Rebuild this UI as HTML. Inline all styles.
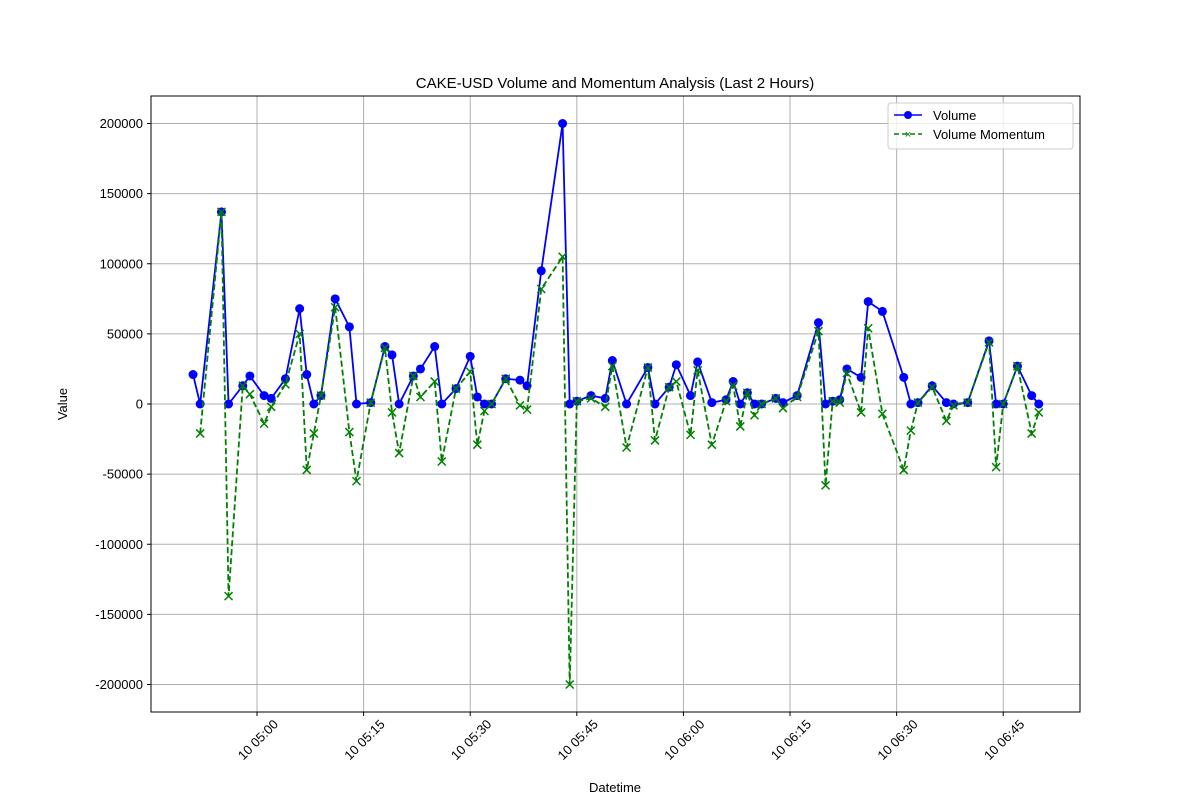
<!DOCTYPE html>
<html><head><meta charset="utf-8"><style>
body{margin:0;background:#fff;}
svg{font-family:"Liberation Sans","DejaVu Sans",sans-serif;}
</style></head><body>
<svg id="chart" width="1200" height="800" xmlns="http://www.w3.org/2000/svg">
<rect width="1200" height="800" fill="#fff"/>
<text x="615" y="88" text-anchor="middle" font-size="15">CAKE-USD Volume and Momentum Analysis (Last 2 Hours)</text>
<g id="grid"></g>
<g id="series"></g>
<rect x="151" y="96" width="929" height="616" fill="none" stroke="#000" stroke-width="1"/>
<g id="axes"></g>
<text x="615" y="792" text-anchor="middle" font-size="13">Datetime</text>
<text x="67" y="404" text-anchor="middle" font-size="13" transform="rotate(-90 67 404)">Value</text>
<g>
<rect x="888" y="103" width="185" height="46" rx="3" fill="#fff" fill-opacity="0.8" stroke="#ccc"/>
<g>
<line x1="894" y1="115" x2="922" y2="115" stroke="blue" stroke-width="1.5"/>
<circle cx="908" cy="115" r="4" fill="blue"/>
<text x="933" y="120" font-size="13">Volume</text>
</g>
<g>
<line x1="894" y1="134" x2="922" y2="134" stroke="green" stroke-width="1.5" stroke-dasharray="5,3"/>
<text x="908" y="138" font-size="11" fill="green" text-anchor="middle">×</text>
<text x="933" y="139" font-size="13">Volume Momentum</text>
</g>
</g>
</svg>
<script>
// minutes offset from 05:00
const minutes = [-9,-8,-5,-4,-2,-1,1,2,4,6,7,8,9,11,13,14,16,18,19,20,22,23,25,26,28,30,31,32,33,35,37,38,40,43,44,45,47,49,50,52,55,56,58,59,61,62,64,66,67,68,69,70,71,73,74,76,79,80,81,82,83,85,86,88,91,92,93,95,97,98,100,103,104,105,107,109,110];
const volume = [21000,0,137000,0,13000,20000,6000,4000,18000,68000,21000,0,6000,75000,55000,0,1000,41000,35000,0,20000,25000,41000,0,11000,34000,5000,0,0,18000,17000,13000,95000,200000,0,2000,6000,4000,31000,0,26000,0,12000,28000,6000,30000,1000,3000,16000,0,8000,0,0,4000,1000,6000,58000,0,2000,3000,25000,19000,73000,66000,19000,0,1000,13000,1000,0,1000,45000,0,0,27000,6000,0];
const momentum = [null,-21000,137000,-137000,13000,7000,-14000,-2000,14000,50000,-47000,-21000,6000,69000,-20000,-55000,1000,40000,-6000,-35000,20000,5000,16000,-41000,11000,23000,-29000,-5000,0,18000,-1000,-4000,82000,105000,-200000,2000,4000,-2000,27000,-31000,26000,-26000,12000,16000,-22000,24000,-29000,2000,13000,-16000,8000,-8000,0,4000,-3000,5000,52000,-58000,2000,1000,22000,-6000,54000,-7000,-47000,-19000,1000,12000,-12000,-1000,1000,44000,-45000,0,27000,-21000,-6000];
const yTicks = [-200000,-150000,-100000,-50000,0,50000,100000,150000,200000];
const xTicks = [0,15,30,45,60,75,90,105];
const xTickLabels = ["10 05:00","10 05:15","10 05:30","10 05:45","10 06:00","10 06:15","10 06:30","10 06:45"];

const NS="http://www.w3.org/2000/svg";
const X = m => 257 + m*7.107;
const Y = v => 404 - v*0.0014025;
function mk(tag, attrs, parent){const e=document.createElementNS(NS,tag);for(const k in attrs)e.setAttribute(k,attrs[k]);parent.appendChild(e);return e;}
const grid=document.getElementById('grid'), axes=document.getElementById('axes'), series=document.getElementById('series');

yTicks.forEach(v=>{
  const y=Y(v);
  const g=mk('line',{x1:151,x2:1080,y1:y,y2:y,stroke:'#b0b0b0','stroke-width':1},grid);
  
  
  mk('line',{x1:147,x2:151,y1:y,y2:y,stroke:'#000'},axes);
  const t=mk('text',{x:143,y:y+4.5,'text-anchor':'end','font-size':13},axes);
  t.textContent=String(v);
  
  
});
xTicks.forEach((m,i)=>{
  const x=X(m);
  const g=mk('line',{x1:x,x2:x,y1:96,y2:712,stroke:'#b0b0b0','stroke-width':1},grid);
  
  
  mk('line',{x1:x,x2:x,y1:712,y2:716,stroke:'#000'},axes);
  const tx=x+22, ty=725;
  const t=mk('text',{x:tx,y:ty,'text-anchor':'end','font-size':13,transform:`rotate(-45 ${tx} ${ty})`},axes);
  t.textContent=xTickLabels[i];
  
  
});

// volume line
const vp=minutes.map((m,i)=>X(m)+','+Y(volume[i])).join(' ');
const vl=mk('polyline',{points:vp,fill:'none',stroke:'blue','stroke-width':1.8},series);


minutes.forEach((m,i)=>{
  const c=mk('circle',{cx:X(m),cy:Y(volume[i]),r:4.5,fill:'blue'},series);
  
  
});
// momentum line
const mp=[];
minutes.forEach((m,i)=>{if(momentum[i]!==null)mp.push(X(m)+','+Y(momentum[i]));});
const ml=mk('polyline',{points:mp.join(' '),fill:'none',stroke:'green','stroke-width':1.8,'stroke-dasharray':'6,3'},series);


minutes.forEach((m,i)=>{
  if(momentum[i]===null)return;
  const x=X(m),y=Y(momentum[i]);
  const p=mk('path',{d:`M${x-4},${y-4}L${x+4},${y+4}M${x-4},${y+4}L${x+4},${y-4}`,stroke:'green','stroke-width':1.5,fill:'none'},series);
  
  
});
</script>
</body></html>
